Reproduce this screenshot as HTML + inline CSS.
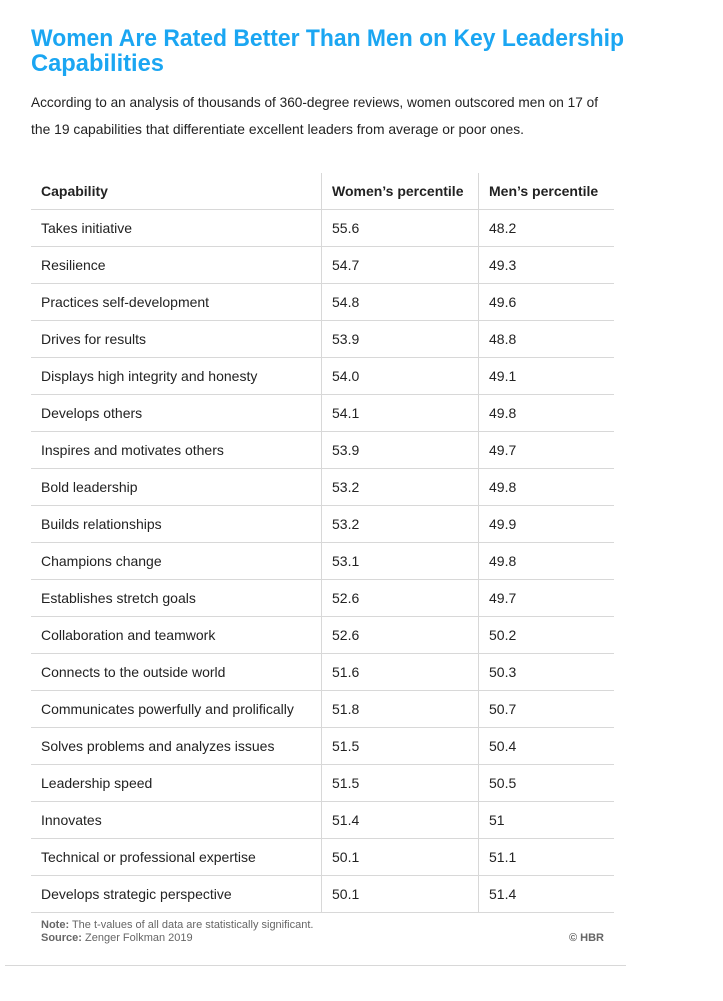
<!DOCTYPE html>
<html><head><meta charset="utf-8">
<style>
body{margin:0;width:723px;height:1001px;background:#fff;position:relative;overflow:hidden;font-family:"Liberation Sans",sans-serif;color:#222}
.abs{position:absolute;white-space:nowrap}
.title{left:31px;font-size:24px;font-weight:bold;color:#1ba6f2;transform-origin:0 0;line-height:28px}
.sub{left:31px;font-size:14px;color:#222;transform-origin:0 0;line-height:18px}
.hl{position:absolute;height:1px;background:#d8d8d8}
.vl{position:absolute;width:1px;background:#d8d8d8}
.cell{position:absolute;font-size:14px;line-height:18px;white-space:nowrap;color:#222}
.hdr{font-weight:bold}
.foot{font-size:11px;color:#666;line-height:13px}
</style></head><body>
<div class="abs title" data-fit="593" style="top:25px">Women Are Rated Better Than Men on Key Leadership</div>
<div class="abs title" data-fit="133" style="top:50px">Capabilities</div>
<div class="abs sub" data-fit="567" style="top:93px">According to an analysis of thousands of 360-degree reviews, women outscored men on 17 of</div>
<div class="abs sub" data-fit="493" style="top:120px">the 19 capabilities that differentiate excellent leaders from average or poor ones.</div>
<div id="tbl"></div>
<div class="abs foot" style="left:41px;top:919px"><b>Note:</b> The t-values of all data are statistically significant.</div>
<div class="abs foot" style="left:41px;top:932px"><b>Source:</b> Zenger Folkman 2019</div>
<div class="abs foot" style="left:569px;top:932px;font-weight:bold">© HBR</div>
<div class="hl" style="left:5px;top:965px;width:621px"></div>
<script>
const capabilities=["Takes initiative","Resilience","Practices self-development","Drives for results","Displays high integrity and honesty","Develops others","Inspires and motivates others","Bold leadership","Builds relationships","Champions change","Establishes stretch goals","Collaboration and teamwork","Connects to the outside world","Communicates powerfully and prolifically","Solves problems and analyzes issues","Leadership speed","Innovates","Technical or professional expertise","Develops strategic perspective"];
const women=["55.6","54.7","54.8","53.9","54.0","54.1","53.9","53.2","53.2","53.1","52.6","52.6","51.6","51.8","51.5","51.5","51.4","50.1","50.1"];
const men=["48.2","49.3","49.6","48.8","49.1","49.8","49.7","49.8","49.9","49.8","49.7","50.2","50.3","50.7","50.4","50.5","51","51.1","51.4"];
const headers=["Capability","Women’s percentile","Men’s percentile"];
const tbl=document.getElementById('tbl');
const L=31,R=614,cols=[41,332,489],divs=[321,478],top0=173,head=36,rowH=37;
function add(cls,style,text){const d=document.createElement('div');d.className=cls;Object.assign(d.style,style);if(text!==undefined)d.textContent=text;tbl.appendChild(d);return d;}
const n=capabilities.length;
const bottom=top0+head+n*rowH;
divs.forEach((x,i)=>{const v=add('vl',{left:x+'px',top:top0+'px',height:(bottom-top0)+'px'});

});
headers.forEach((h,i)=>{const c=add('cell hdr',{left:cols[i]+'px',top:(top0+9)+'px'},h);

});
for(let r=0;r<=n;r++){const y=top0+head+r*rowH;const l=add('hl',{left:L+'px',top:y+'px',width:(R-L)+'px'});

}
capabilities.forEach((c,r)=>{const y=top0+head+r*rowH+10;
[c,women[r],men[r]].forEach((t,i)=>{const e=add('cell',{left:cols[i]+'px',top:y+'px'},t);

});});
document.querySelectorAll('[data-fit]').forEach(el=>{const w=el.getBoundingClientRect().width;el.style.transform='scaleX('+(+el.dataset.fit/w)+')';});
</script>
</body></html>
